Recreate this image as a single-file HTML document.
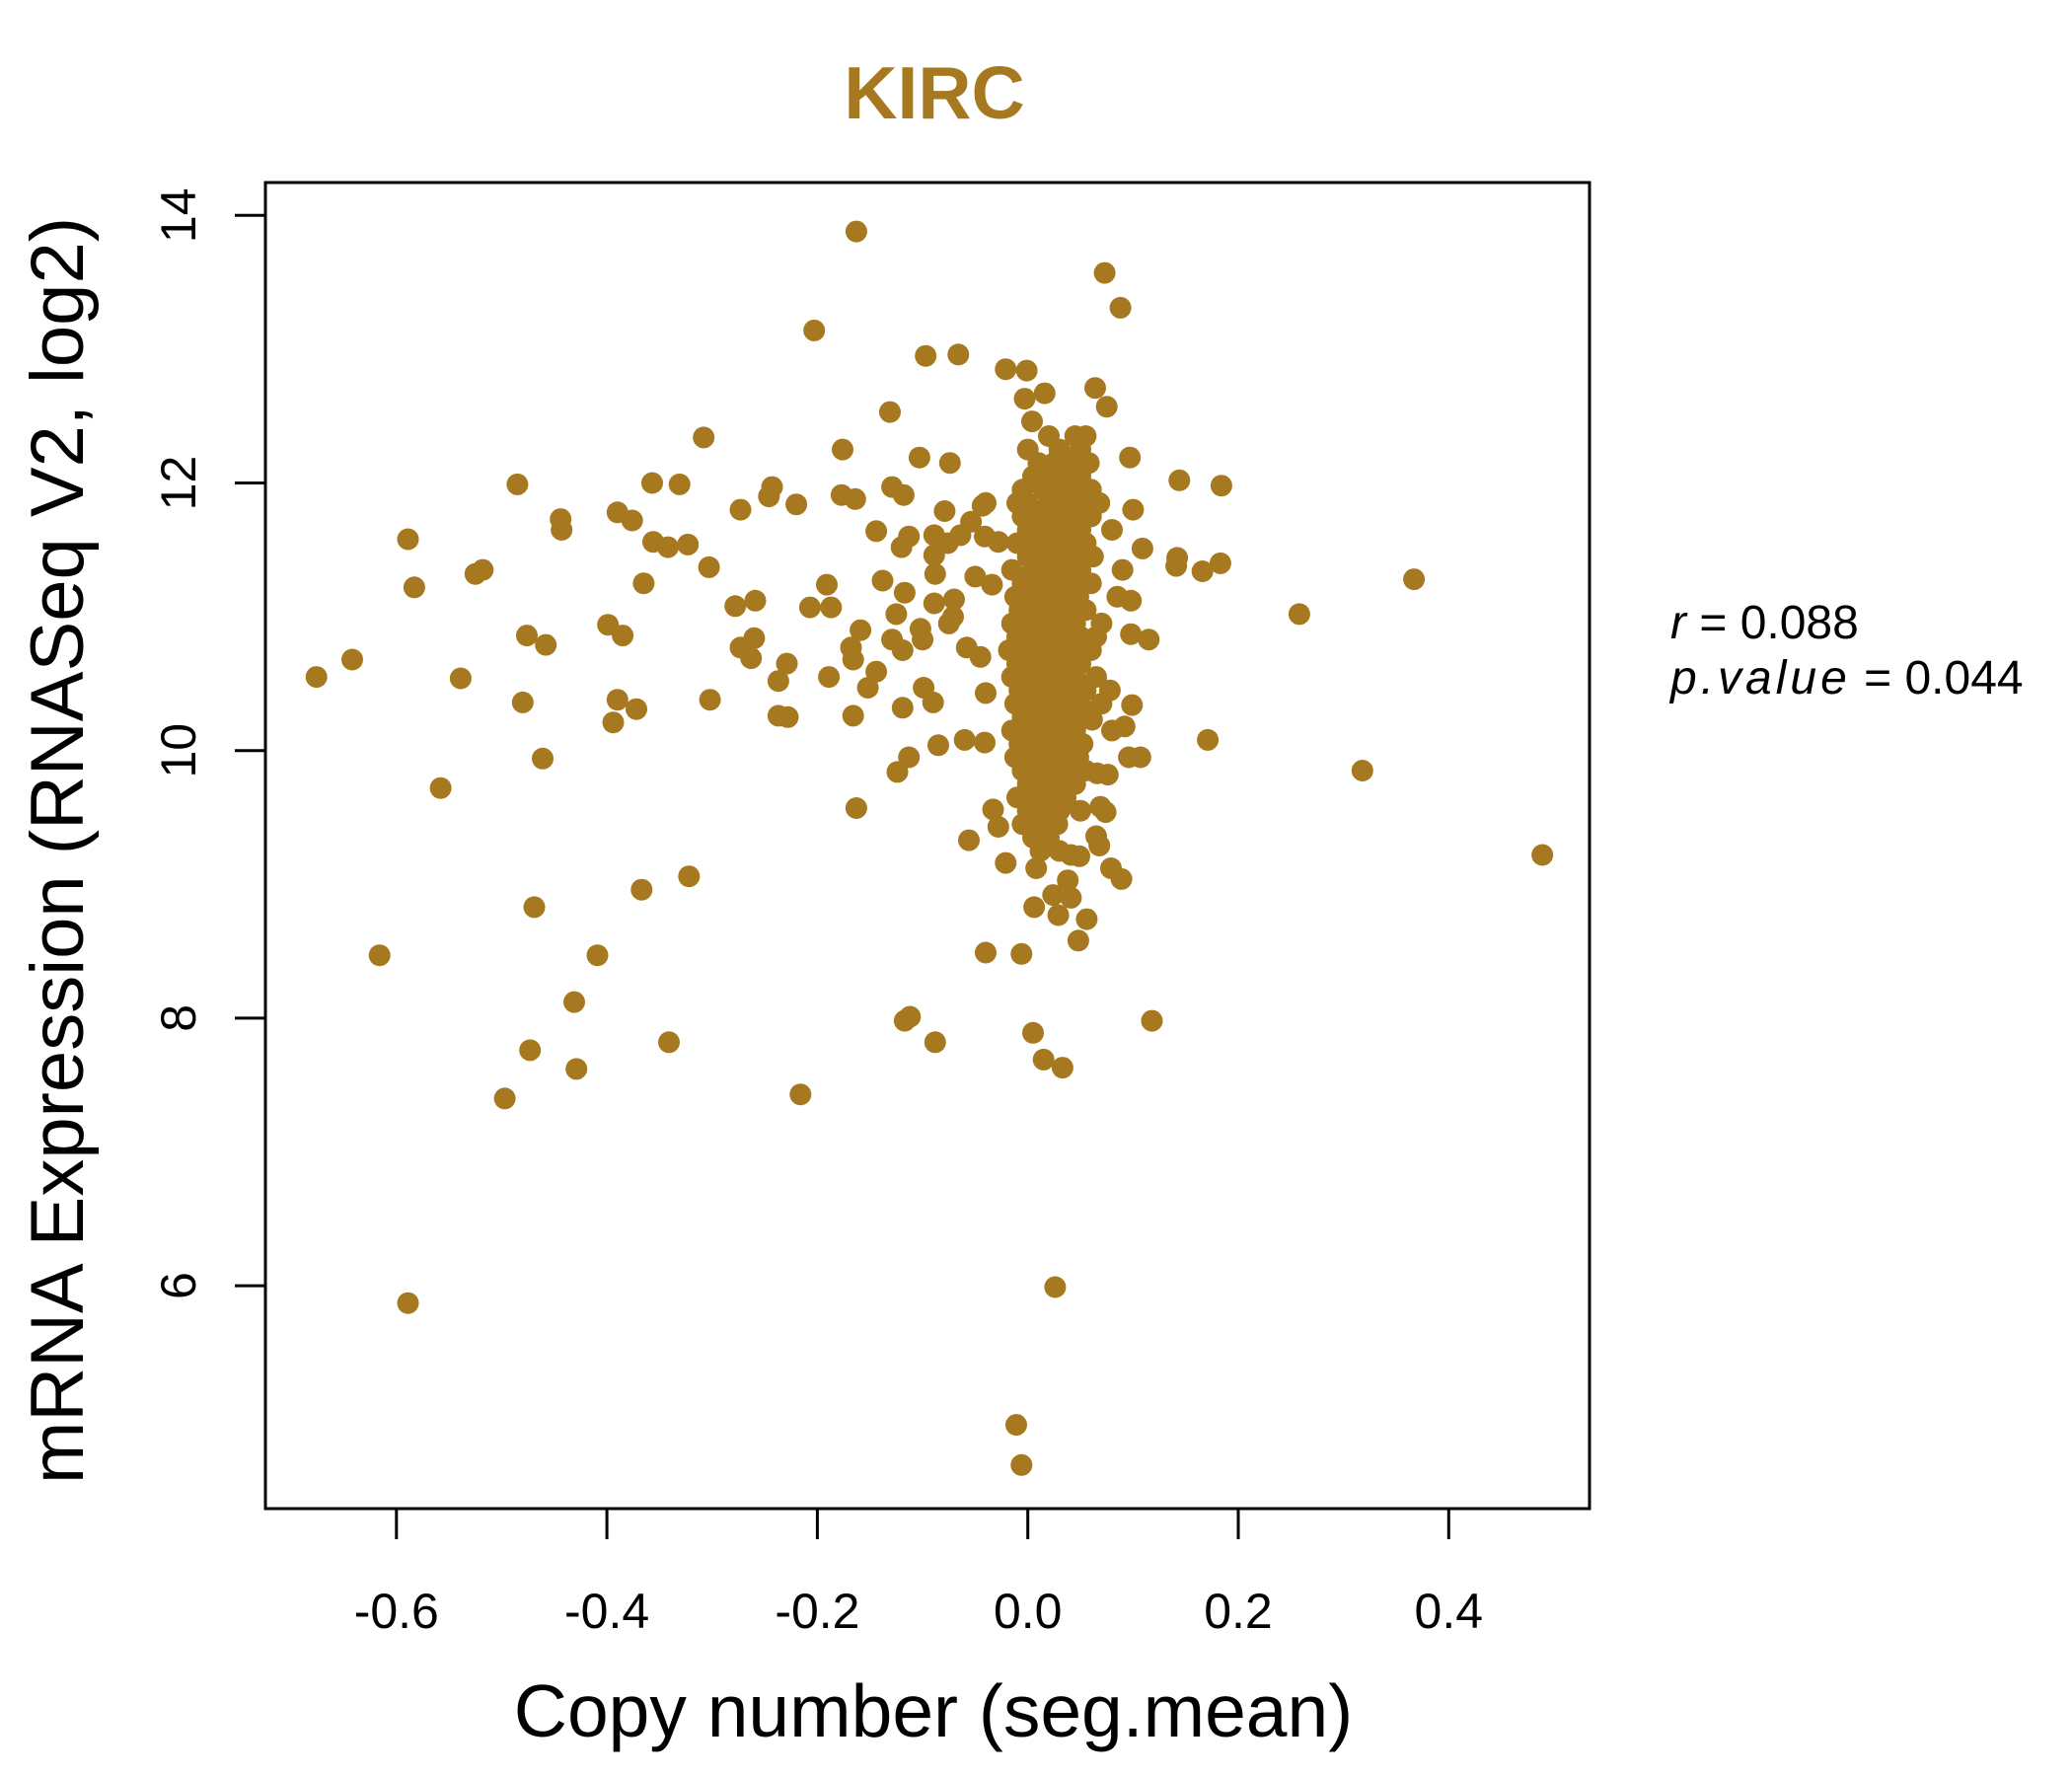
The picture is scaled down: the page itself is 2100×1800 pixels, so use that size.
<!DOCTYPE html>
<html><head><meta charset="utf-8"><style>
html,body{margin:0;padding:0;background:#fff;}
svg{display:block;font-family:"Liberation Sans",Arial,sans-serif;}
</style></head><body>
<svg id="chart" width="2100" height="1800" viewBox="0 0 2100 1800" xmlns="http://www.w3.org/2000/svg">
<rect x="0" y="0" width="2100" height="1800" fill="#fff"/>
<text x="947" y="120" text-anchor="middle" font-size="75" font-weight="bold" fill="#a6781f">KIRC</text>
<g id="points"></g>
<rect x="269" y="185" width="1342" height="1344" fill="none" stroke="#000" stroke-width="3"/>
<g id="xaxis"></g>
<g id="yaxis"></g>
<text x="946" y="1760" text-anchor="middle" font-size="75" fill="#000">Copy number (seg.mean)</text>
<text transform="translate(84,862) rotate(-90)" text-anchor="middle" font-size="76" fill="#000">mRNA Expression (RNASeq V2, log2)</text>
<text x="1693" y="647" font-size="48" fill="#000"><tspan font-style="italic">r</tspan> = 0.088</text>
<text x="1693" y="703" font-size="48" fill="#000"><tspan font-style="italic" letter-spacing="4">p.value</tspan> = 0.044</text>
</svg>
<script>
const xTicks = [-0.6, -0.4, -0.2, 0.0, 0.2, 0.4];
const xTickLabels = ["-0.6", "-0.4", "-0.2", "0.0", "0.2", "0.4"];
const yTicks = [6, 8, 10, 12, 14];
const yTickLabels = ["6", "8", "10", "12", "14"];
const outlierSamples = [
[-0.676,10.55],[-0.642,10.68],[-0.589,11.58],[-0.583,11.22],[-0.616,8.47],[-0.589,5.87],[-0.558,9.72],[-0.539,10.54],
[-0.525,11.32],[-0.518,11.35],[-0.485,11.99],[-0.480,10.36],[-0.476,10.86],[-0.458,10.79],[-0.461,9.94],[-0.469,8.83],
[-0.473,7.76],[-0.497,7.40],[-0.444,11.73],[-0.443,11.65],[-0.390,11.78],[-0.376,11.72],[-0.399,10.94],[-0.385,10.86],
[-0.390,10.38],[-0.394,10.21],[-0.372,10.31],[-0.365,11.25],[-0.357,12.0],[-0.356,11.56],[-0.342,11.52],[-0.331,11.99],
[-0.323,11.54],[-0.308,12.34],[-0.303,11.37],[-0.302,10.38],[-0.322,9.06],[-0.367,8.96],[-0.409,8.47],[-0.431,8.12],
[-0.429,7.62],[-0.341,7.82],[-0.278,11.08],[-0.273,11.80],[-0.259,11.12],[-0.273,10.77],[-0.260,10.84],[-0.263,10.69],
[-0.246,11.90],[-0.243,11.97],[-0.220,11.84],[-0.229,10.65],[-0.237,10.52],[-0.237,10.26],[-0.228,10.25],[-0.216,7.43],
[-0.203,13.14],[-0.207,11.07],[-0.191,11.24],[-0.187,11.07],[-0.189,10.55],[-0.176,12.25],[-0.177,11.91],[-0.164,11.88],
[-0.168,10.77],[-0.166,10.68],[-0.159,10.90],[-0.166,10.26],[-0.163,9.57],[-0.163,13.88],[-0.152,10.47],[-0.144,10.59],
[-0.144,11.64],[-0.138,11.27],[-0.131,12.53],[-0.129,11.97],[-0.129,10.83],[-0.118,11.91],[-0.120,11.52],[-0.113,11.60],
[-0.125,11.02],[-0.119,10.75],[-0.117,11.18],[-0.119,10.32],[-0.113,9.95],[-0.124,9.84],[-0.117,7.98],[-0.112,8.01],
[-0.103,12.19],[-0.102,10.91],[-0.100,10.83],[-0.099,10.47],[-0.097,12.95],[-0.090,10.36],[-0.089,11.61],[-0.089,11.46],
[-0.088,11.32],[-0.089,11.10],[-0.085,10.04],[-0.088,7.82],[-0.074,12.15],[-0.076,11.55],[-0.079,11.79],[-0.070,11.13],
[-0.071,11.00],[-0.075,10.95],[-0.066,12.96],[-0.064,11.61],[-0.060,10.08],[-0.058,10.77],[-0.056,9.33],[-0.054,11.71],
[-0.050,11.30],[-0.045,10.70],[-0.043,11.83],[-0.040,11.85],[-0.041,11.60],[-0.040,10.43],[-0.041,10.06],[-0.040,8.49],
[-0.033,9.56],[-0.028,9.43],[-0.028,11.56],[-0.034,11.24],[-0.021,9.16],[-0.021,12.85],[-0.011,4.96],[-0.006,4.66],
[-0.006,8.48],[0.005,7.89],[0.006,8.83],[0.015,7.69],[0.026,5.99],[0.033,7.63],[-0.001,12.84],[-0.003,12.63],
[0.016,12.67],[0.004,12.46],[0.064,12.71],[0.073,13.57],[0.088,13.31],[0.075,12.57],[0.097,12.19],[0.144,12.02],
[0.184,11.98],[0.100,11.80],[0.109,11.51],[0.142,11.44],[0.141,11.38],[0.166,11.34],[0.183,11.40],[0.258,11.02],
[0.367,11.28],[0.098,11.12],[0.098,10.87],[0.115,10.83],[0.099,10.34],[0.092,10.18],[0.096,9.95],[0.107,9.95],
[0.171,10.08],[0.318,9.85],[0.489,9.22],[0.118,7.98],[0.089,9.04],[0.079,9.12],[0.074,9.54],[0.066,9.83],
[0.076,9.82],[0.061,10.23],[0.056,8.74],[0.048,8.58],[0.038,9.03],[0.041,9.22],[0.049,9.21],[0.029,8.77],
[0.024,8.92],[0.041,8.90],[0.069,9.58],[0.065,9.36],[0.068,9.29]
];
const clusterSamples = [
[0.02,12.35],[0.045,12.35],[0.055,12.35],[0.0,12.25],[0.03,12.25],[0.05,12.25],
[0.01,12.15],[0.025,12.15],[0.04,12.15],[0.058,12.15],[0.005,12.05],[0.02,12.05],[0.035,12.05],[0.05,12.05],
[-0.005,11.95],[0.015,11.95],[0.03,11.95],[0.045,11.95],[0.06,11.95],
[-0.01,11.85],[0.0,11.85],[0.02,11.85],[0.04,11.85],[0.055,11.85],[0.068,11.85],
[-0.005,11.75],[0.012,11.75],[0.028,11.75],[0.042,11.75],[0.06,11.75],
[0.0,11.65],[0.018,11.65],[0.032,11.65],[0.05,11.65],[0.08,11.65],
[-0.01,11.55],[0.008,11.55],[0.025,11.55],[0.04,11.55],[0.055,11.55],
[0.0,11.45],[0.015,11.45],[0.03,11.45],[0.045,11.45],[0.062,11.45],
[-0.015,11.35],[0.005,11.35],[0.02,11.35],[0.035,11.35],[0.05,11.35],[0.09,11.35],
[-0.005,11.25],[0.01,11.25],[0.025,11.25],[0.04,11.25],[0.06,11.25],
[-0.012,11.15],[0.002,11.15],[0.018,11.15],[0.032,11.15],[0.048,11.15],[0.085,11.15],
[-0.008,11.05],[0.008,11.05],[0.022,11.05],[0.038,11.05],[0.055,11.05],
[-0.015,10.95],[0.0,10.95],[0.015,10.95],[0.03,10.95],[0.045,10.95],[0.07,10.95],
[-0.01,10.85],[0.005,10.85],[0.02,10.85],[0.035,10.85],[0.05,10.85],[0.065,10.85],
[-0.018,10.75],[-0.002,10.75],[0.012,10.75],[0.028,10.75],[0.042,10.75],[0.06,10.75],
[-0.01,10.65],[0.005,10.65],[0.02,10.65],[0.035,10.65],[0.05,10.65],
[-0.015,10.55],[0.0,10.55],[0.015,10.55],[0.03,10.55],[0.045,10.55],[0.065,10.55],
[-0.008,10.45],[0.008,10.45],[0.022,10.45],[0.038,10.45],[0.055,10.45],[0.078,10.45],
[-0.012,10.35],[0.004,10.35],[0.02,10.35],[0.035,10.35],[0.05,10.35],[0.07,10.35],
[-0.005,10.25],[0.01,10.25],[0.025,10.25],[0.04,10.25],[0.058,10.25],
[-0.015,10.15],[0.0,10.15],[0.015,10.15],[0.03,10.15],[0.045,10.15],[0.08,10.15],
[-0.008,10.05],[0.008,10.05],[0.022,10.05],[0.038,10.05],[0.052,10.05],
[-0.012,9.95],[0.002,9.95],[0.018,9.95],[0.032,9.95],[0.048,9.95],
[-0.005,9.85],[0.01,9.85],[0.025,9.85],[0.04,9.85],[0.055,9.85],
[0.0,9.75],[0.015,9.75],[0.03,9.75],[0.045,9.75],
[-0.01,9.65],[0.008,9.65],[0.022,9.65],[0.036,9.65],
[0.0,9.55],[0.018,9.55],[0.03,9.55],[0.05,9.55],
[-0.005,9.45],[0.012,9.45],[0.028,9.45],[0.005,9.35],[0.02,9.35],[0.012,9.25],[0.03,9.25],[0.008,9.12]
];

const NS = "http://www.w3.org/2000/svg";
const X0 = 1041.7, XS = 1066.5, Y14 = 218.3, YS = 135.6;
function xScale(v){ return X0 + v * XS; }
function yScale(v){ return Y14 + (14 - v) * YS; }

const pg = document.getElementById('points');
outlierSamples.concat(clusterSamples).forEach(function(p){
  const c = document.createElementNS(NS, 'circle');
  c.setAttribute('cx', xScale(p[0]).toFixed(1));
  c.setAttribute('cy', yScale(p[1]).toFixed(1));
  c.setAttribute('r', 11);
  c.setAttribute('fill', '#a6781f');
  
  
  pg.appendChild(c);
});

const xa = document.getElementById('xaxis');
xTicks.forEach(function(t, i){
  const l = document.createElementNS(NS, 'line');
  l.setAttribute('x1', xScale(t)); l.setAttribute('x2', xScale(t));
  l.setAttribute('y1', 1529); l.setAttribute('y2', 1560);
  l.setAttribute('stroke', '#000'); l.setAttribute('stroke-width', 3);
  
  
  xa.appendChild(l);
  const tx = document.createElementNS(NS, 'text');
  tx.setAttribute('x', xScale(t)); tx.setAttribute('y', 1650);
  tx.setAttribute('text-anchor', 'middle'); tx.setAttribute('font-size', 50);
  tx.textContent = xTickLabels[i];
  
  
  xa.appendChild(tx);
});
const ya = document.getElementById('yaxis');
yTicks.forEach(function(t, i){
  const l = document.createElementNS(NS, 'line');
  l.setAttribute('x1', 238); l.setAttribute('x2', 269);
  l.setAttribute('y1', yScale(t)); l.setAttribute('y2', yScale(t));
  l.setAttribute('stroke', '#000'); l.setAttribute('stroke-width', 3);
  
  
  ya.appendChild(l);
  const tx = document.createElementNS(NS, 'text');
  tx.setAttribute('transform', 'translate(198,' + yScale(t) + ') rotate(-90)');
  tx.setAttribute('text-anchor', 'middle'); tx.setAttribute('font-size', 50);
  tx.textContent = yTickLabels[i];
  
  
  ya.appendChild(tx);
});
</script>
</body></html>
